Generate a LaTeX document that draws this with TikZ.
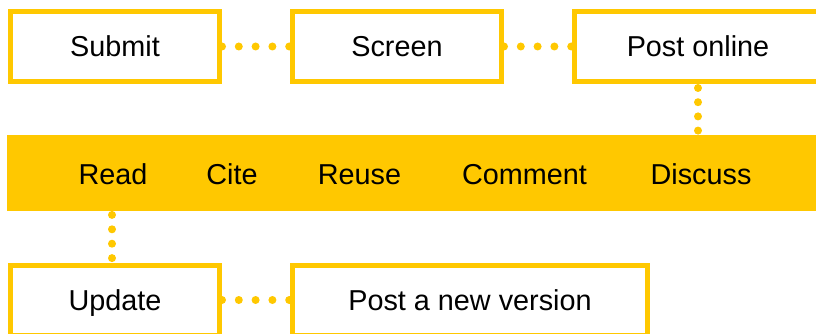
\documentclass[tikz,border=0pt]{standalone}
\usepackage{fontspec}
\setmainfont{Liberation Sans}
\definecolor{ylw}{HTML}{FFC800}
\begin{document}
\begin{tikzpicture}[x=1pt,y=-1pt,
  txt/.style={inner sep=0pt, text height=20.6pt, text depth=0pt, font=\fontsize{28.8}{30}\selectfont},
  box/.style={txt, draw=ylw, line width=5pt, fill=white, minimum height=70pt},
  dots/.style={draw=ylw, line width=8pt, line cap=round, dash pattern=on 0pt off #1}]
\useasboundingbox (0,0) rectangle (816,334);
\clip (0,0) rectangle (816,334);
% top row
\node[box, minimum width=209pt] (submit) at (115,46.5) {Submit};
\node[box, minimum width=209pt] (screen) at (397,46.5) {Screen};
\node[box, minimum width=248pt] (post) at (698,46.5) {Post online};
% band
\node[fill=ylw, inner sep=0pt, minimum width=830pt, minimum height=75.5pt, anchor=north west] (band) at (7,135) {};
\node[txt] (read) at (113,174.5) {Read};
\node[txt] (cite) at (232,174.5) {Cite};
\node[txt] (reuse) at (359.5,174.5) {Reuse};
\node[txt] (comment) at (524.5,174.5) {Comment};
\node[txt] (discuss) at (701,174.5) {Discuss};
% bottom row
\node[box, minimum width=209pt] (update) at (115,300) {Update};
\node[box, minimum width=355pt] (newver) at (470,300) {Post a new version};
% connectors
\draw[dots=16.8pt] (submit.east) -- (screen.west);
\draw[dots=16.8pt] (screen.east) -- (post.west);
\draw[dots=14.2pt, shorten <=4pt, shorten >=4pt] (post.south) -- (post.south |- band.north);
\draw[dots=14.4pt, shorten <=4pt, shorten >=4pt] ([xshift=-1pt]read.center |- band.south) -- ([xshift=-1pt]read.center |- update.north);
\draw[dots=16.8pt] (update.east) -- (newver.west);
\end{tikzpicture}
\end{document}
